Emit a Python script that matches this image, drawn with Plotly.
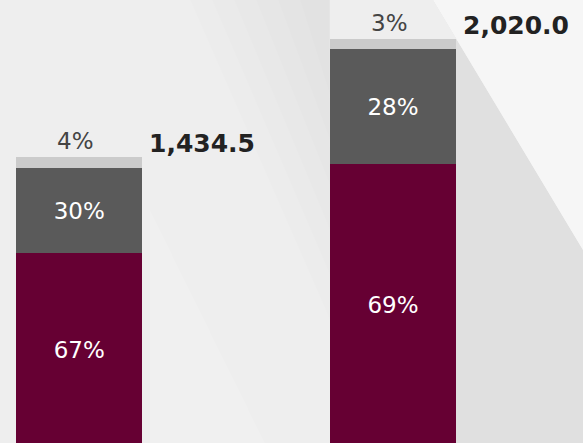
import plotly.graph_objects as go

# ---- data ----
categories = [0, 1]
maroon_vals = [958, 1400]
gray_vals = [422, 567]
light_vals = [54.5, 53]
maroon_labels = ["67%", "69%"]
gray_labels = ["30%", "28%"]
light_labels = ["4%", "3%"]
totals = [1434.5, 2020.0]
total_labels = ["1,434.5", "2,020.0"]

# ---- style ----
W, H = 583, 443
FONT = "DejaVu Sans"
MAROON = "#660033"
DGRAY = "#5a5a5a"
LGRAY = "#cbcbcb"
BAR_W = 0.4

fig = go.Figure()
common = dict(width=BAR_W, textposition="inside", insidetextanchor="middle",
              textangle=0, constraintext="none",
              textfont=dict(family=FONT, size=23, color="white"),
              hoverinfo="skip", showlegend=False)
fig.add_bar(x=categories, y=maroon_vals, text=maroon_labels,
            marker=dict(color=MAROON, line=dict(width=0)), **common)
fig.add_bar(x=categories, y=gray_vals, text=gray_labels,
            marker=dict(color=DGRAY, line=dict(width=0)), **common)
fig.add_bar(x=categories, y=light_vals, text=["", ""],
            marker=dict(color=LGRAY, line=dict(width=0)), **common)

for c, t, lab, tl in zip(categories, totals, light_labels, total_labels):
    fig.add_annotation(x=c, y=t, text=lab, showarrow=False, xanchor="center",
                       yanchor="middle", xshift=-4, yshift=16,
                       font=dict(family=FONT, size=23, color="#444444"))
    fig.add_annotation(x=c + BAR_W / 2, y=t, text="<b>" + tl + "</b>", showarrow=False,
                       xanchor="left", yanchor="middle", xshift=5, yshift=13,
                       font=dict(family=FONT, size=25, color="#222222"))

# background facets (decoration, paper coords from pixel positions)
def poly(pts, color, opacity=1.0):
    path = "M " + " L ".join(f"{x / W:.4f},{1 - y / H:.4f}" for x, y in pts) + " Z"
    fig.add_shape(type="path", path=path, xref="paper", yref="paper",
                  fillcolor=color, opacity=opacity, line=dict(width=0), layer="below")

# soft darkening towards the top-middle (layered for a gradient look)
for k in range(6):
    x0 = 190 + k * 22
    poly([(x0, 0), (330, 0), (330, 320 - k * 45)], "black", 0.008)
# faint lighter wedge at the bottom-middle
poly([(150, 210), (265, 443), (150, 443)], "white", 0.12)
# right side: gray band and bright top-right facet
poly([(433, 0), (583, 250), (583, 443), (456, 443), (456, 0)], "black", 0.058)
for k in range(12):
    y0 = 180 + k * 22
    poly([(456, y0), (583, y0), (583, 443), (456, 443)], "white", 0.025)
poly([(433, 0), (583, 0), (583, 250)], "#f6f6f6")

px_per_unit = 0.2022
y_top = 447 / px_per_unit
y_bot = (447 - H) / px_per_unit
x_pp = 313.8
x_left = -79.2 / x_pp
x_right = (W - 79.2) / x_pp

fig.update_layout(
    width=W, height=H, margin=dict(l=0, r=0, t=0, b=0),
    barmode="stack", paper_bgcolor="#eeeeee", plot_bgcolor="rgba(0,0,0,0)",
    xaxis=dict(range=[x_left, x_right], visible=False, fixedrange=True),
    yaxis=dict(range=[y_bot, y_top], visible=False, fixedrange=True),
    uniformtext=dict(mode=False),
)
fig.write_html("out.html", config={"displayModeBar": False})
